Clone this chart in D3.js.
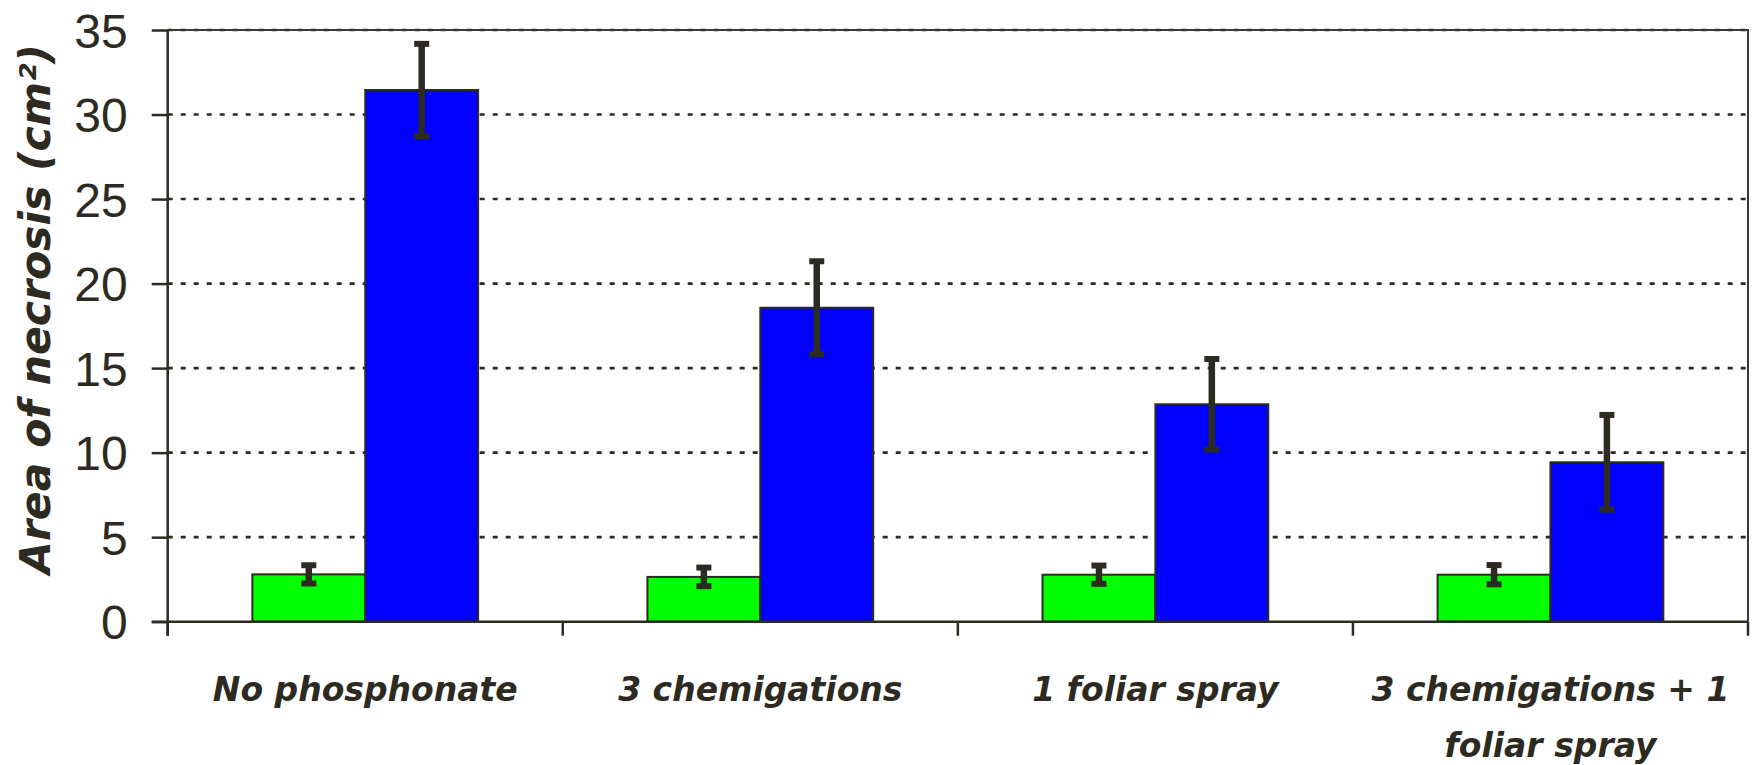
<!DOCTYPE html>
<html>
<head>
<meta charset="utf-8">
<script src="https://cdn.jsdelivr.net/npm/d3@7"></script>
<style>
  html, body { margin: 0; padding: 0; background: #ffffff; }
  svg { display: block; }
</style>
</head>
<body>
<svg id="chart" width="1753" height="765"></svg>
<script>
// ---- data ----
const categories = ["No phosphonate", "3 chemigations", "1 foliar spray", "3 chemigations + 1 foliar spray"];
const seriesNames = ["green", "blue"];
const greenValues = [2.80, 2.65, 2.78, 2.78];
const greenErrors = [0.54, 0.55, 0.54, 0.57];
const blueValues = [31.45, 18.57, 12.86, 9.43];
const blueErrors = [2.73, 2.75, 2.68, 2.80];
const yTicks = [0, 5, 10, 15, 20, 25, 30, 35];
const yTitle = "Area of necrosis (cm²)";

// ---- layout ----
const W = 1753, H = 765;
const plot = { left: 167.7, right: 1748, top: 30, bottom: 621.7 };
const ink = "#2d2a22";
const colors = { green: "#00ff00", blue: "#0000ff" };

const svg = d3.select("#chart");

const x0 = d3.scaleBand().domain(categories).range([plot.left, plot.right]).padding(0);
const barW = x0.bandwidth() / 3.5;
const x1 = d3.scaleBand().domain(seriesNames).range([0, 2 * barW]).padding(0);
const y = d3.scaleLinear().domain([0, 35]).range([plot.bottom, plot.top]);

// gridlines
svg.append("g").selectAll("line").data(yTicks.filter(d => d > 0)).join("line")
  .attr("x1", plot.left).attr("x2", plot.right)
  .attr("y1", d => y(d)).attr("y2", d => y(d))
  .attr("stroke", ink).attr("stroke-width", 2.6)
  .attr("stroke-dasharray", "5,8");

// plot border (top & right)
svg.append("path")
  .attr("d", `M${plot.left},${plot.top}H${plot.right}V${plot.bottom}`)
  .attr("fill", "none").attr("stroke", "#3a3833").attr("stroke-width", 2);

// data rows
const rows = categories.map((c, i) => ([
  { cat: c, s: "green", v: greenValues[i], e: greenErrors[i] },
  { cat: c, s: "blue", v: blueValues[i], e: blueErrors[i] }
])).flat();

const bx = d => x0(d.cat) + x0.bandwidth() / 2 - barW + x1(d.s);

// bars
svg.append("g").selectAll("rect").data(rows).join("rect")
  .attr("x", d => bx(d))
  .attr("y", d => y(d.v))
  .attr("width", x1.bandwidth())
  .attr("height", d => y(0) - y(d.v))
  .attr("fill", d => colors[d.s])
  .attr("stroke", ink).attr("stroke-width", 2);

// error bars
const eg = svg.append("g").attr("stroke", ink);
rows.forEach(d => {
  const cx = bx(d) + x1.bandwidth() / 2;
  const yt = y(d.v + d.e), yb = y(d.v - d.e);
  eg.append("line").attr("x1", cx).attr("x2", cx).attr("y1", yt).attr("y2", yb).attr("stroke-width", 6.5);
  [yt, yb].forEach(yy => {
    eg.append("line").attr("x1", cx - 7.5).attr("x2", cx + 7.5).attr("y1", yy).attr("y2", yy).attr("stroke-width", 6);
  });
});

// y axis
const yAxis = svg.append("g").attr("transform", `translate(${plot.left},0)`)
  .call(d3.axisLeft(y).tickValues(yTicks).tickSize(16).tickPadding(24).tickFormat(d3.format("d")));
yAxis.select(".domain").remove();
yAxis.selectAll(".tick line").attr("stroke", ink).attr("stroke-width", 2.5);
yAxis.selectAll(".tick text")
  .attr("fill", ink)
  .attr("font-family", "'Liberation Sans', Arial, sans-serif")
  .attr("font-size", 48)
  .attr("dy", "0.36em");
svg.append("line").attr("x1", plot.left).attr("x2", plot.left)
  .attr("y1", plot.top).attr("y2", plot.bottom + 14)
  .attr("stroke", ink).attr("stroke-width", 2.5);

// x axis
svg.append("line").attr("x1", plot.left - 16).attr("x2", plot.right)
  .attr("y1", plot.bottom).attr("y2", plot.bottom)
  .attr("stroke", ink).attr("stroke-width", 2.5);
const boundaries = categories.map(c => x0(c)).concat([plot.right]);
svg.append("g").selectAll("line").data(boundaries).join("line")
  .attr("x1", d => d).attr("x2", d => d)
  .attr("y1", plot.bottom).attr("y2", plot.bottom + 14)
  .attr("stroke", ink).attr("stroke-width", 2.5);

// category labels (wrapped)
const labelFont = "'DejaVu Sans', sans-serif";
const lg = svg.append("g");
categories.forEach(c => {
  const cx = x0(c) + x0.bandwidth() / 2;
  const words = c.split(" ");
  const lines = [];
  let cur = [];
  const probe = lg.append("text").attr("font-family", labelFont).attr("font-size", 33)
    .attr("font-weight", "bold").attr("font-style", "italic");
  words.forEach(w => {
    const test = cur.concat([w]).join(" ");
    probe.text(test);
    if (probe.node().getComputedTextLength() > 385 && cur.length) {
      lines.push(cur.join(" "));
      cur = [w];
    } else cur.push(w);
  });
  lines.push(cur.join(" "));
  probe.remove();
  lines.forEach((ln, i) => {
    lg.append("text")
      .attr("x", cx).attr("y", 701 + i * 56)
      .attr("text-anchor", "middle")
      .attr("font-family", labelFont).attr("font-size", 33)
      .attr("font-weight", "bold").attr("font-style", "italic")
      .attr("fill", ink)
      .text(ln);
  });
});

// y title
svg.append("text")
  .attr("transform", `translate(50,${(45 + 573) / 2}) rotate(-90)`)
  .attr("text-anchor", "middle")
  .attr("font-family", labelFont).attr("font-size", 42.5)
  .attr("font-weight", "bold").attr("font-style", "italic")
  .attr("fill", ink)
  .text(yTitle);
</script>
</body>
</html>
